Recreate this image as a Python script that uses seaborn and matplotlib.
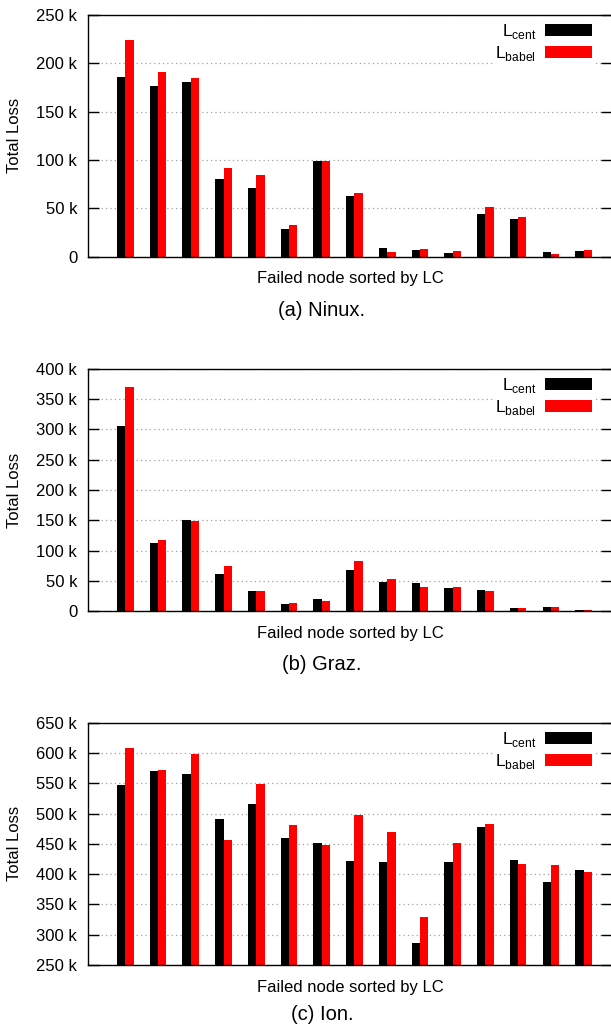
import numpy as np
import pandas as pd
import matplotlib
matplotlib.use("Agg")
import matplotlib.pyplot as plt
from matplotlib.ticker import FuncFormatter, MultipleLocator
import seaborn as sns

# -------------------------
# Data (in thousands)
# -------------------------
nodes = [str(i) for i in range(1, 16)]

ninux_cent = [185.5, 176.6, 180.4, 79.9, 71.3, 29.1, 98.4, 62.8, 8.9, 7.2, 3.4, 44.6, 39.4, 4.5, 5.8]
ninux_babel = [224.3, 191.0, 184.8, 91.2, 84.0, 32.9, 98.4, 65.8, 4.8, 8.2, 6.2, 51.8, 40.8, 2.7, 6.5]

graz_cent = [305.5, 112.6, 150.0, 61.0, 33.5, 12.6, 19.8, 68.7, 48.4, 46.2, 38.5, 34.6, 4.9, 7.1, 2.2]
graz_babel = [369.2, 118.1, 148.4, 75.3, 33.0, 14.3, 16.5, 83.5, 52.7, 40.7, 40.7, 34.1, 5.5, 6.6, 1.6]

ion_cent = [547.1, 570.2, 564.7, 491.0, 515.2, 459.6, 451.9, 421.1, 420.0, 286.9, 420.6, 477.8, 422.8, 386.5, 406.3]
ion_babel = [608.2, 572.4, 598.8, 456.3, 548.8, 480.5, 447.5, 497.0, 470.1, 328.7, 450.8, 482.7, 416.2, 415.6, 404.1]

series_names = [r"L$_{\mathregular{cent}}$", r"L$_{\mathregular{babel}}$"]
captions = ["(a) Ninux.", "(b) Graz.", "(c) Ion."]
ylims = [(0, 250), (0, 400), (250, 650)]

# -------------------------
# Style
# -------------------------
sns.set_theme(style="white")
plt.rcParams["font.family"] = ["Liberation Sans", "DejaVu Sans"]
plt.rcParams["mathtext.fontset"] = "custom"
plt.rcParams["mathtext.rm"] = "Liberation Sans"
plt.rcParams["font.size"] = 12
plt.rcParams["text.color"] = "black"

palette = {series_names[0]: "#000000", series_names[1]: "#ff0000"}

fig = plt.figure(figsize=(6.11, 10.26), dpi=100)
H = 1026.0
W = 611.0
left = 88.3 / W
width = 612.0 / W - left
panels = [(14.7, 256.7), (368.7, 611.3), (722.7, 965.0)]

datasets = [(ninux_cent, ninux_babel), (graz_cent, graz_babel), (ion_cent, ion_babel)]


def fmt_k(v, pos):
    if abs(v) < 1e-9:
        return "0"
    return f"{int(round(v))} k"


for (top, bot), (cent, babel), cap, (y0, y1) in zip(panels, datasets, captions, ylims):
    ax = fig.add_axes([left, 1 - bot / H, width, (bot - top) / H])
    df = pd.DataFrame({
        "node": nodes * 2,
        "loss": cent + babel,
        "series": [series_names[0]] * len(nodes) + [series_names[1]] * len(nodes),
    })
    sns.barplot(data=df, x="node", y="loss", hue="series", palette=palette,
                width=0.507, saturation=1, linewidth=0, ax=ax)

    ax.set_xlim(-1.13, 14.865)
    ax.set_ylim(y0, y1)
    ax.yaxis.set_major_locator(MultipleLocator(50))
    ax.yaxis.set_major_formatter(FuncFormatter(fmt_k))
    ax.set_xticks([])
    ax.tick_params(axis="y", direction="in", length=8, width=1, right=True,
                   left=True, labelsize=12, pad=8, color="black", labelcolor="black")

    # dotted grid at interior ticks
    ax.set_axisbelow(True)
    ax.yaxis.grid(True, linestyle=(0, (1, 2.5)), color="#a0a0a0", linewidth=0.9)

    for s in ax.spines.values():
        s.set_color("black")
        s.set_linewidth(1.0)

    ax.set_xlabel("Failed node sorted by LC", fontsize=12, labelpad=10.5, color="black")
    ax.set_ylabel("Total Loss", fontsize=12, color="black")
    ax.yaxis.set_label_coords(-(88.3 - 22.0) / (612 - 88.3), 0.5)

    handles, labels = ax.get_legend_handles_labels()
    leg = ax.legend(handles, labels, loc="upper right",
                    bbox_to_anchor=((594.5 - 88.3) / (612 - 88.3), 1 - 5.0 / (bot - top)),
                    markerfirst=False, frameon=True, fancybox=False,
                    handlelength=2.7, handleheight=0.64, handletextpad=0.5,
                    labelspacing=0.15, borderpad=0.15, borderaxespad=0,
                    fontsize=12.5)
    leg.get_frame().set_edgecolor("none")
    leg.get_frame().set_facecolor("white")
    leg.get_frame().set_alpha(1)
    for t in leg.get_texts():
        t.set_ha("right")
        t.set_color("black")

    base = min(bot + 59, 1020.5)
    fig.text(322.0 / W, 1 - base / H, cap, ha="center", va="baseline",
             fontsize=14.5, color="black")

fig.savefig("out.png", dpi=100)
